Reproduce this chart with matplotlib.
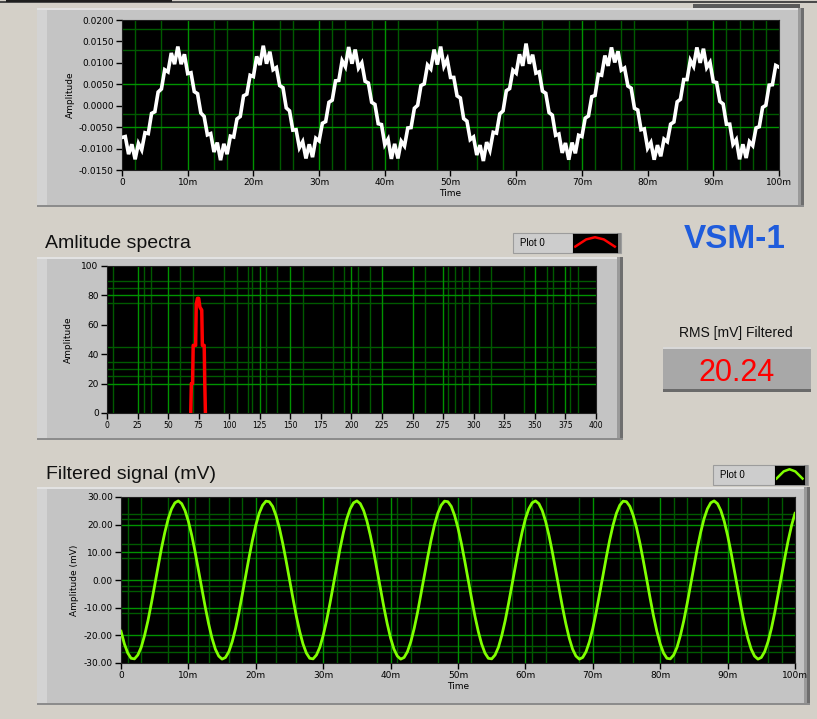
import matplotlib.pyplot as plt
from matplotlib.patches import Rectangle
import numpy as np

# front panel size in pixels
W, H = 817, 719
BG = '#d4d0c8'
PANEL = '#c4c4c4'
GRID_MAJ = '#009300'
GRID_MIN = '#005a00'
UI_FONT = 'Liberation Sans'

# raw sensor signal in mV, one sample every 0.5 ms
dt_ms = 0.5
raw_mv = [
    -7.4, -7.2, -11.3, -9.0, -12.5, -8.8, -10.3, -6.3, -6.5, -1.8,
    -1.4, 3.2, 3.9, 8.4, 7.9, 12.3, 9.7, 13.8, 9.7, 12.0,
    7.5, 7.7, 3.3, 2.8, -1.7, -2.5, -6.8, -6.5, -10.8, -8.6,
    -12.7, -8.9, -11.3, -7.1, -7.3, -3.1, -2.5, 2.3, 2.7, 7.1,
    6.8, 11.5, 9.5, 14.0, 9.8, 12.6, 8.4, 8.9, 4.7, 4.2,
    -0.5, -1.2, -5.7,
    -5.6, -9.8, -8.4, -12.3, -9.0, -12.0, -7.6, -8.2, -4.1, -3.7,
    0.8, 1.3, 5.8, 5.9, 10.5, 9.1, 13.7, 9.8, 13.1, 8.8,
    10.0, 5.7, 5.3, 0.8, 0.3, -4.2, -4.4, -9.1, -7.8, -12.4,
    -8.9, -12.3, -8.3, -9.4, -5.2, -5.1, -0.6, 0.1, 4.7, 5.1,
    9.5, 8.6, 13.1, 9.6, 13.8, 9.2, 10.8, 6.6, 6.6, 2.3,
    1.8, -3.0, -3.6,
    -7.9, -7.3, -11.5, -9.2, -12.9, -8.5, -10.4, -6.2, -6.4, -1.9,
    -1.2, 3.5, 4.0, 8.3, 7.6, 12.0, 9.3, 14.5, 9.8, 11.9,
    7.6, 7.9, 3.4, 2.9, -1.6, -2.2, -6.9, -6.6, -11.0, -8.7,
    -12.6, -8.6, -11.1, -6.9, -7.2, -2.9, -2.4, 2.1, 2.4, 7.3,
    7.1, 11.7, 9.3, 13.6, 10.1, 12.7, 8.3, 8.8, 4.6, 4.1,
    -0.6, -1.0, -5.6,
    -5.4, -9.9, -8.6, -12.6, -9.2, -11.8, -7.8, -8.4, -4.3, -3.8,
    0.9, 1.5, 6.1, 6.1, 10.6, 9.2, 13.6, 10.0, 13.3, 8.9,
    10.1, 5.6, 5.4, 1.0, 0.4, -4.3, -4.3, -9.0, -7.9, -12.5,
    -9.0, -12.2, -8.4, -9.3, -5.2, -4.9, -0.4, 0.1, 4.8, 4.9,
    9.4, 9.0,
]

# band-pass filtered signal in mV, same sampling
filtered_mv = [
    -18.5, -23.1, -26.4, -28.3, -28.5, -27.1, -24.3, -20.0, -14.7, -8.5,
    -1.9, 4.9, 11.4, 17.2, 22.1, 25.7, 27.9, 28.6, 27.6, 25.1,
    21.2, 16.1, 10.1, 3.5, -3.2, -9.8, -15.8, -21.0, -25.0, -27.5,
    -28.6, -28.0, -25.9, -22.3, -17.5, -11.7, -5.2, 1.5, 8.2, 14.4,
    19.8, 24.1, 27.0, 28.5, 28.3, 26.6, 23.3, 18.8, 13.2, 6.9,
    0.2, -6.5, -12.9,
    -18.5, -23.1, -26.4, -28.3, -28.5, -27.1, -24.3, -20.0, -14.7, -8.5,
    -1.9, 4.9, 11.4, 17.2, 22.1, 25.7, 27.9, 28.6, 27.6, 25.1,
    21.2, 16.1, 10.1, 3.5, -3.2, -9.8, -15.8, -21.0, -25.0, -27.5,
    -28.6, -28.0, -25.9, -22.3, -17.5, -11.7, -5.2, 1.5, 8.2, 14.4,
    19.8, 24.1, 27.0, 28.5, 28.3, 26.6, 23.3, 18.8, 13.2, 6.9,
    0.2, -6.5, -12.9,
    -18.5, -23.1, -26.4, -28.3, -28.5, -27.1, -24.3, -20.0, -14.7, -8.5,
    -1.9, 4.9, 11.4, 17.2, 22.1, 25.7, 27.9, 28.6, 27.6, 25.1,
    21.2, 16.1, 10.1, 3.5, -3.2, -9.8, -15.8, -21.0, -25.0, -27.5,
    -28.6, -28.0, -25.9, -22.3, -17.5, -11.7, -5.2, 1.5, 8.2, 14.4,
    19.8, 24.1, 27.0, 28.5, 28.3, 26.6, 23.3, 18.8, 13.2, 6.9,
    0.2, -6.5, -12.9,
    -18.5, -23.1, -26.4, -28.3, -28.5, -27.1, -24.3, -20.0, -14.7, -8.5,
    -1.9, 4.9, 11.4, 17.2, 22.1, 25.7, 27.9, 28.6, 27.6, 25.1,
    21.2, 16.1, 10.1, 3.5, -3.2, -9.8, -15.8, -21.0, -25.0, -27.5,
    -28.6, -28.0, -25.9, -22.3, -17.5, -11.7, -5.2, 1.5, 8.2, 14.4,
    19.8, 24.1,
]

# amplitude spectrum around the line (zero elsewhere)
spec_hz = [68.5, 69, 70, 70.5, 72.5, 73, 74, 75, 76, 77.5, 78, 79.5, 80, 80.5]
spec_amp = [0, 20, 20, 46, 46, 74, 78, 78, 72, 70, 46, 46, 20, 0]

rms_filtered = 20.24

time_ticks = [0, 10, 20, 30, 40, 50, 60, 70, 80, 90, 100]
time_labels = ['0', '10m', '20m', '30m', '40m', '50m', '60m', '70m', '80m', '90m', '100m']
raw_ticks_v = [-0.015, -0.010, -0.005, 0.0, 0.005, 0.010, 0.015, 0.020]
filt_ticks = [-30, -20, -10, 0, 10, 20, 30]
spec_yticks = [0, 20, 40, 60, 80, 100]
spec_xticks = list(range(0, 401, 25))

t_ms = np.arange(len(raw_mv)) * dt_ms

fig = plt.figure(figsize=(W / 100, H / 100), dpi=100, facecolor=BG)


def box(x0, y0, x1, y1, color, z=-5, **kw):
    # rectangle in panel pixels (origin top-left), drawn under the axes
    r = Rectangle((x0 / W, 1 - y1 / H), (x1 - x0) / W, (y1 - y0) / H,
                  transform=fig.transFigure, facecolor=color,
                  edgecolor=kw.pop('edgecolor', 'none'), zorder=z, **kw)
    fig.add_artist(r)


def panel(x0, y0, x1, y1):
    box(x0, y0, x1, y1, PANEL)
    box(x0, y0, x0 + 10, y1, '#d3d3d3')
    box(x0, y0, x1, y0 + 2, '#e2e2e2')
    box(x1 - 6, y0, x1 - 3, y1, '#9a9a9a')
    box(x1 - 3, y0, x1, y1, '#6e6e6e')
    box(x0, y1 - 2, x1, y1, '#8c8c8c')


def plot_area(x0, y0, x1, y1):
    ax = fig.add_axes([x0 / W, 1 - y1 / H, (x1 - x0) / W, (y1 - y0) / H])
    ax.set_facecolor('black')
    for s in ax.spines.values():
        s.set_color('#202020')
        s.set_linewidth(0.8)
    ax.tick_params(direction='out', length=4, width=1, color='black',
                   labelsize=6.5, pad=2)
    return ax


def draw_grid(ax, xmaj, xmin, ymaj, ymin):
    for v in xmin:
        ax.axvline(v, color=GRID_MIN, lw=1.0, zorder=1)
    for v in ymin:
        ax.axhline(v, color=GRID_MIN, lw=1.0, zorder=1)
    for v in xmaj:
        ax.axvline(v, color=GRID_MAJ, lw=1.0, zorder=1)
    for v in ymaj:
        ax.axhline(v, color=GRID_MAJ, lw=1.0, zorder=1)


def plot_legend(x0, y0, x1, y1, icon_x0, color):
    box(x0, y0, x1, y1, '#cdcdcd', edgecolor='#9c9c9c', lw=0.8)
    box(x1 - 4, y0, x1, y1, '#8a8a8a')
    fig.text((x0 + 7) / W, 1 - (y0 + y1) / 2 / H, 'Plot 0', fontsize=7,
             va='center', family=UI_FONT)
    ix = fig.add_axes([icon_x0 / W, 1 - (y1 - 1) / H, (x1 - 4 - icon_x0) / W, (y1 - y0 - 2) / H])
    ix.set_facecolor('black')
    ix.plot([0.05, 0.3, 0.5, 0.7, 0.95], [0.3, 0.7, 0.82, 0.7, 0.3], color=color, lw=1.8)
    ix.set_xlim(0, 1)
    ix.set_ylim(0, 1)
    ix.set_xticks([])
    ix.set_yticks([])


# strip of the window frame above the first graph
box(0, 1, W, 3, '#4a4a4a')
box(6, 0, 172, 2, '#1e1e1e')
box(693, 4, 800, 8, '#5a5a5a')

# ---------- raw signal graph ----------
panel(37, 8, 804, 207)
ax1 = plot_area(122, 20, 779, 170)
draw_grid(ax1, [10, 20, 30, 40, 70, 90],
          [2, 6, 14, 16, 24, 26, 32, 34, 38, 42, 48, 54, 58, 64, 68, 72, 76, 78, 86, 92, 94, 96, 98],
          [0.005, -0.005], [0.018, 0.013, -0.002])
ax1.plot(t_ms, np.array(raw_mv) / 1000, color='white', lw=2.6, zorder=3,
         solid_joinstyle='miter')
ax1.set_xlim(0, 100)
ax1.set_ylim(-0.015, 0.020)
ax1.set_xticks(time_ticks)
ax1.set_xticklabels(time_labels)
ax1.set_yticks(raw_ticks_v)
ax1.set_yticklabels(['%.4f' % v for v in raw_ticks_v])
ax1.set_ylabel('Amplitude', fontsize=6.5, labelpad=3)
ax1.set_xlabel('Time', fontsize=6.5, labelpad=1)

# ---------- amplitude spectrum ----------
fig.text(45 / W, 1 - 248 / H, 'Amlitude spectra', fontsize=14, family=UI_FONT,
         va='baseline', color='#111111')
panel(37, 257, 623, 440)
plot_legend(513, 233, 621, 253, 573, 'red')
ax2 = plot_area(107, 266, 596, 413)
draw_grid(ax2, [25, 50, 125, 150, 200, 225, 250, 275, 350, 375],
          [5, 30, 36, 60, 70, 96, 106, 115, 119, 130, 139, 160, 185, 194, 205, 215,
           260, 279, 285, 290, 296, 304, 314, 341, 360, 365, 379, 385],
          [20, 80], [25, 30, 35, 45, 75, 85, 90])
ax2.plot(spec_hz, spec_amp, color='#ff0000', lw=2.5, zorder=3)
ax2.set_xlim(0, 400)
ax2.set_ylim(0, 100)
ax2.set_xticks(spec_xticks)
ax2.set_xticklabels([str(v) for v in spec_xticks], fontsize=5.5)
ax2.set_yticks(spec_yticks)
ax2.set_yticklabels([str(v) for v in spec_yticks])
ax2.set_ylabel('Amplitude', fontsize=6.5, labelpad=6)

# ---------- indicators ----------
fig.text(735 / W, 1 - 248 / H, 'VSM-1', fontsize=24, fontweight='bold',
         color='#1f5cdc', family=UI_FONT, ha='center', va='baseline')
fig.text(736 / W, 1 - 337 / H, 'RMS [mV] Filtered', fontsize=10,
         family=UI_FONT, ha='center', va='baseline', color='#111111')
box(663, 347, 811, 392, '#a8a8a8')
box(663, 347, 811, 349, '#d8d8d8')
box(663, 389, 811, 392, '#6a6a6a')
fig.text(737 / W, 1 - 381 / H, '%.2f' % rms_filtered, fontsize=22,
         family=UI_FONT, ha='center', va='baseline', color='#ff0000')

# ---------- filtered signal graph ----------
fig.text(46 / W, 1 - 479 / H, 'Filtered signal (mV)', fontsize=14, family=UI_FONT,
         va='baseline', color='#111111')
panel(37, 487, 810, 705)
plot_legend(713, 465, 808, 485, 775, '#80ff00')
ax3 = plot_area(121, 497, 795, 663)
draw_grid(ax3, [10, 20, 30, 40, 50, 60, 70, 80, 90],
          [1, 3, 7, 11, 13, 16, 18, 23, 26, 32, 34, 38, 41, 43, 47, 52, 58, 61, 63,
           68, 74, 76, 82, 84, 86, 92, 96, 98],
          [20, 10, 0, -10, -20], [24, 22, 13, 8, -2, -4, -12, -24, -26])
ax3.plot(t_ms, filtered_mv, color='#80ff00', lw=2.0, zorder=3)
ax3.set_xlim(0, 100)
ax3.set_ylim(-30, 30)
ax3.set_xticks(time_ticks)
ax3.set_xticklabels(time_labels)
ax3.set_yticks(filt_ticks)
ax3.set_yticklabels(['%.2f' % v for v in filt_ticks])
ax3.set_ylabel('Amplitude (mV)', fontsize=6.5, labelpad=3)
ax3.set_xlabel('Time', fontsize=6.5, labelpad=1)

fig.savefig('out.png', dpi=100, facecolor=BG)
